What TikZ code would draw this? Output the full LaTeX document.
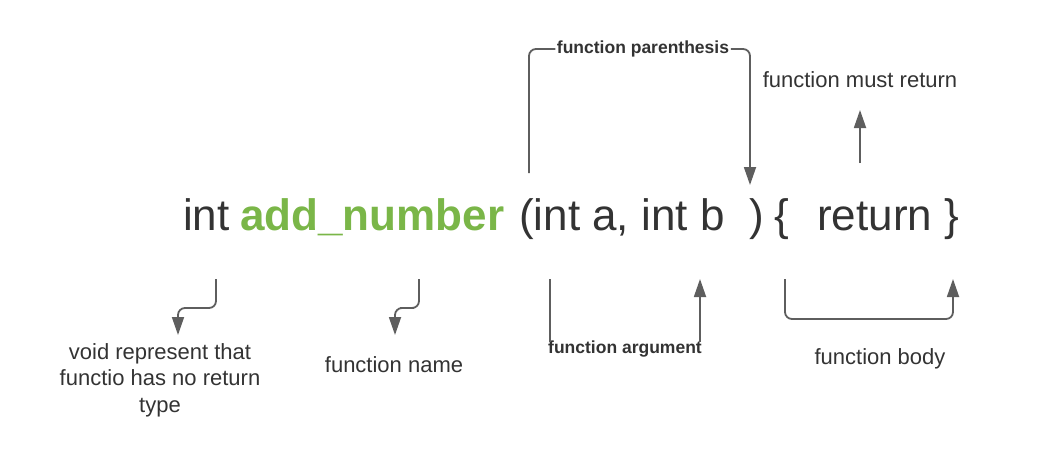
\documentclass[tikz,border=0pt]{standalone}
\usepackage{fontspec}
\setmainfont{Liberation Sans}
\usetikzlibrary{arrows.meta}
\definecolor{txt}{HTML}{333333}
\definecolor{grn}{HTML}{7AB648}
\definecolor{arr}{HTML}{5E5E5E}
\tikzset{
  code/.style={inner sep=0pt, anchor=base west, text=txt, font=\fontsize{44}{50}\selectfont},
  lbl/.style={inner sep=0pt, text=txt, font=\fontsize{22}{26.5}\selectfont, align=center},
  blbl/.style={inner sep=1.5pt, text=txt, font=\fontsize{17.5}{20}\selectfont\bfseries, fill=white},
  conn/.style={draw=arr, line width=1.8pt, rounded corners=7pt},
  tip/.style={-{Triangle[width=12pt,length=18pt]}},
}
\begin{document}
\begin{tikzpicture}[x=1pt,y=-1pt]
\useasboundingbox (0,0) rectangle (1040,466);
% code line
\node[code] (c1) at (183,230) {int};
\node[code, text=grn, font=\fontsize{44}{50}\selectfont\bfseries] (c2) at (240,230) {add\_number};
\node[code] (c3) at (519,230) {(int a, int b};
\node[code] (c4) at (749,230) {)};
\node[code] (c5) at (774,230) {\{};
\node[code] (c6) at (817,230) {return};
\node[code] (c7) at (944,230) {\}};
% labels
\node[lbl] (lret) at (860,80) {function must return};
\node[lbl] (lvoid) at (160,380) {void represent that\\functio has no return\\type};
\node[lbl] (lname) at (394,365) {function name};
\node[lbl] (lbody) at (880,359) {function body};
\node[blbl] (lpar) at (643,49) {function parenthesis};
\node[blbl, inner sep=0pt] (larg) at (625,349) {function argument};
% coordinates
\coordinate (p1) at (529,173);
\coordinate (p2) at (750,185);
\coordinate (r1) at (860,163);
\coordinate (r2) at (860,110);
\coordinate (v1) at (216,279);
\coordinate (vm) at (197,308);
\coordinate (v2) at (178,335);
\coordinate (n1) at (419,279);
\coordinate (nm) at (407,308);
\coordinate (n2) at (395,335);
\coordinate (a1) at (550,279);
\coordinate (a2) at (700,279);
\coordinate (b1) at (785,279);
\coordinate (bm) at (870,319);
\coordinate (b2) at (953,279);
% connectors
\draw[conn] (p1) |- (lpar.west);
\draw[conn, tip] (lpar.east) -| (p2);
\draw[conn, tip] (r1) -- (r2);
\draw[conn, tip] (v1) |- (vm) -| (v2);
\draw[conn, tip] (n1) |- (nm) -| (n2);
\draw[conn] (a1) -- ([yshift=-1pt]a1 |- larg.north);
\draw[conn, tip] ([yshift=-1pt]a2 |- larg.north) -- (a2);
\draw[conn, tip] (b1) |- (bm) -| (b2);
\end{tikzpicture}
\end{document}
